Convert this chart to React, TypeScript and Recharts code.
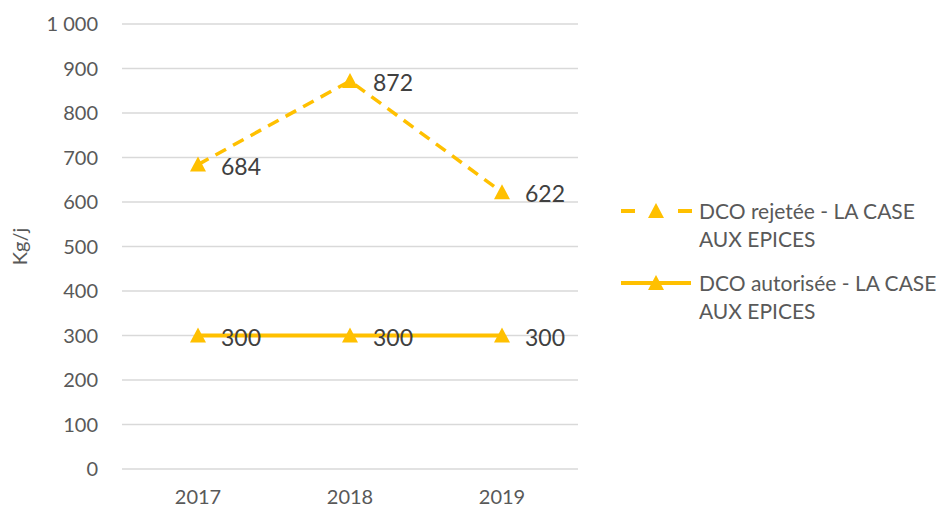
import React from "react";
import { LineChart, Line, XAxis, YAxis, CartesianGrid, Legend, LabelList } from "recharts";

const years = ["2017", "2018", "2019"];
const rejetee = [684, 872, 622];
const autorisee = [300, 300, 300];
const yTicks = [0, 100, 200, 300, 400, 500, 600, 700, 800, 900, 1000];

const seriesNames = ["DCO rejetée - LA CASE AUX EPICES", "DCO autorisée - LA CASE AUX EPICES"];
const legendLines = [
  ["DCO rejetée - LA CASE", "AUX EPICES"],
  ["DCO autorisée - LA CASE", "AUX EPICES"],
];

const data = years.map((year, i) => ({ year, rejetee: rejetee[i], autorisee: autorisee[i] }));

const GOLD = "#FFC000";
const FONT = "Lato, 'Open Sans', sans-serif";

const Triangle = (props: any) => {
  const { cx, cy } = props;
  if (cx == null || cy == null) return null;
  return <polygon points={`${cx},${cy - 8} ${cx - 8},${cy + 7} ${cx + 8},${cy + 7}`} fill={GOLD} />;
};

const ValueLabel = (props: any) => {
  const { x, y, value } = props;
  return (
    <text x={x + 23} y={y + 1} dominantBaseline="central" textAnchor="start" fontSize={23} fill="#404040" fontFamily={FONT}>
      {value}
    </text>
  );
};

const fmt = (v: number) => (v >= 1000 ? v.toString().replace(/\B(?=(\d{3})+(?!\d))/g, " ") : String(v));

const AxisTitle = (props: any) => {
  const { viewBox } = props;
  const x = viewBox.x + 27;
  const y = viewBox.y + viewBox.height / 2;
  return (
    <text x={x} y={y} transform={`rotate(-90, ${x}, ${y})`} textAnchor="middle" fontSize={20} fill="#595959" fontFamily={FONT}>
      Kg/j
    </text>
  );
};

const LegendContent = () => (
  <div style={{ fontFamily: FONT, fontSize: 21, color: "#595959", lineHeight: "28px", whiteSpace: "nowrap" }}>
    {seriesNames.map((name, i) => (
      <div key={name} style={{ display: "flex", alignItems: "flex-start", marginBottom: i === 0 ? 16 : 0 }}>
        <svg width={84} height={28} style={{ flex: "none" }}>
          <line x1={6} y1={14} x2={76} y2={14} stroke={GOLD} strokeWidth={4} strokeDasharray={i === 0 ? "14 43" : undefined} />
          {i === 0 && <line x1={63} y1={14} x2={77} y2={14} stroke={GOLD} strokeWidth={4} />}
          <polygon points="41,6 33,21 49,21" fill={GOLD} />
        </svg>
        <div>
          {legendLines[i].map((t) => (
            <div key={t}>{t}</div>
          ))}
        </div>
      </div>
    ))}
  </div>
);

export default function App() {
  return (
    <div style={{ position: "absolute", left: 0, top: 0, width: 936, height: 508, background: "#fff", overflow: "hidden" }}>
      <LineChart width={936} height={508} data={data} margin={{ top: 24, right: 358, left: 0, bottom: 0 }}>
        <CartesianGrid vertical={false} stroke="#d9d9d9" strokeWidth={1.5} />
        <XAxis
          dataKey="year"
          padding={{ left: 76, right: 76 }}
          axisLine={false}
          tickLine={false}
          tickSize={0}
          tickMargin={21}
          height={39}
          tick={{ fill: "#595959", fontSize: 20, fontFamily: FONT }}
        />
        <YAxis
          domain={[0, 1000]}
          ticks={yTicks}
          tickFormatter={fmt}
          axisLine={false}
          tickLine={false}
          tickSize={0}
          tickMargin={24}
          width={122}
          tick={{ fill: "#595959", fontSize: 20, fontFamily: FONT }}
          label={<AxisTitle />}
        />
        <Legend
          layout="vertical"
          align="center"
          verticalAlign="middle"
          content={<LegendContent />}
          wrapperStyle={{ left: 615, top: 197, width: 321 }}
        />
        <Line
          dataKey="rejetee"
          name={seriesNames[0]}
          stroke={GOLD}
          strokeWidth={3.5}
          strokeDasharray="12 8"
          dot={<Triangle />}
          activeDot={false}
          isAnimationActive={false}
        >
          <LabelList dataKey="rejetee" content={<ValueLabel />} />
        </Line>
        <Line
          dataKey="autorisee"
          name={seriesNames[1]}
          stroke={GOLD}
          strokeWidth={4}
          dot={<Triangle />}
          activeDot={false}
          isAnimationActive={false}
        >
          <LabelList dataKey="autorisee" content={<ValueLabel />} />
        </Line>
      </LineChart>
    </div>
  );
}
